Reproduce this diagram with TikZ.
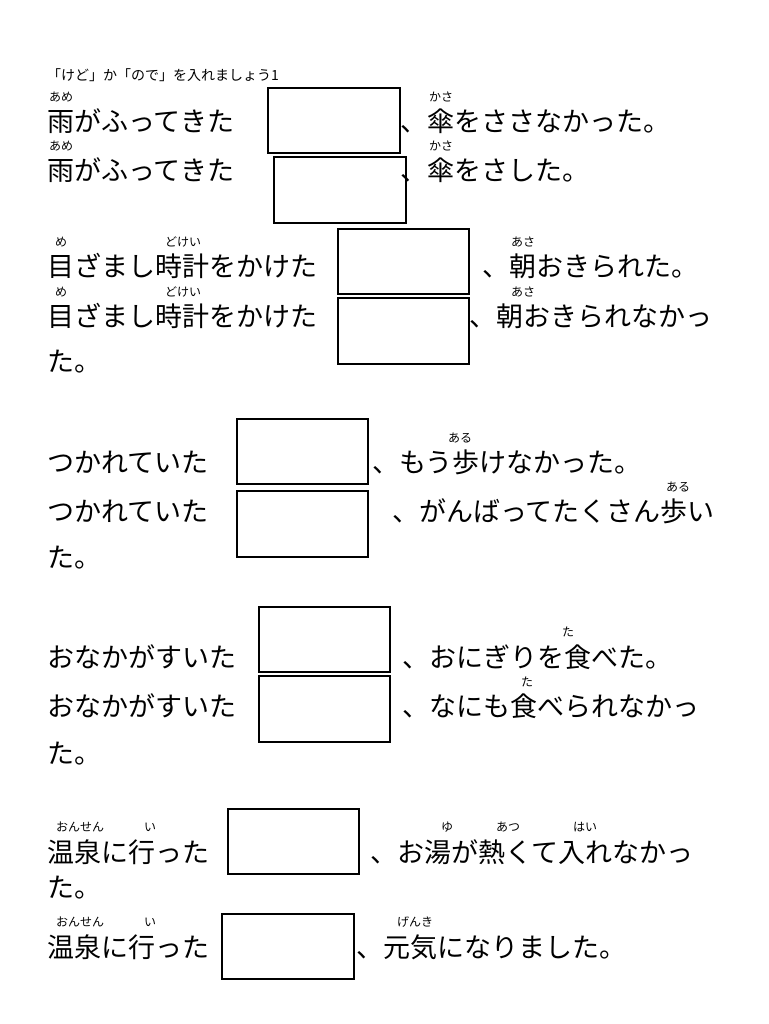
\documentclass[tikz,border=0pt]{standalone}
\usepackage{fontspec}
\newfontfamily\jp{Noto Sans CJK JP}
\begin{document}
\begin{tikzpicture}[x=1pt,y=-1pt,
  txt/.style={anchor=west, inner sep=0pt, font=\jp\fontsize{27}{27}\selectfont},
  ruby/.style={inner sep=0pt, font=\jp\fontsize{12}{12}\selectfont},
  ans/.style={draw, line width=1.2pt}]
	
	\useasboundingbox (0,0) rectangle (768,1024);
	\node[anchor=west, inner sep=0pt, font=\jp\fontsize{14}{14}\selectfont] (title) at (47,75) {「けど」か「ので」を入れましょう1};
	
	% rain
	\node[txt] (l1) at (47,121) {雨がふってきた};
	\draw[ans] (268,88) rectangle (400,153);
	\node[txt] (r1) at (400,121) {、傘をささなかった。};
	\node[ruby] at (61,97) {あめ};
	\node[ruby] at (441,97) {かさ};
	\node[txt] (l2) at (47,170) {雨がふってきた};
	\draw[ans] (274,157) rectangle (406,223);
	\node[txt] (r2) at (400,170) {、傘をさした。};
	\node[ruby] at (61,146) {あめ};
	\node[ruby] at (441,146) {かさ};
	
	% alarm
	\node[txt] (l3) at (47,266) {目ざまし時計をかけた};
	\draw[ans] (338,229) rectangle (469,294);
	\node[txt] (r3) at (482,266) {、朝おきられた。};
	\node[ruby] at (61,242) {め};
	\node[ruby] at (183,242) {どけい};
	\node[ruby] at (523,242) {あさ};
	\node[txt] (l4) at (47,316) {目ざまし時計をかけた};
	\draw[ans] (338,298) rectangle (469,364);
	\node[txt] (r4) at (469,316) {、朝おきられなかっ};
	\node[ruby] at (61,292) {め};
	\node[ruby] at (183,292) {どけい};
	\node[ruby] at (523,292) {あさ};
	\node[txt] (c4) at (47,362) {た。};
	
	% tired
	\node[txt] (l5) at (47,462) {つかれていた};
	\draw[ans] (237,419) rectangle (368,484);
	\node[txt] (r5) at (372,462) {、もう歩けなかった。};
	\node[ruby] at (460,438) {ある};
	\node[txt] (l6) at (47,511) {つかれていた};
	\draw[ans] (237,491) rectangle (368,557);
	\node[txt] (r6) at (392,511) {、がんばってたくさん歩い};
	\node[ruby] at (678,487) {ある};
	\node[txt] (c6) at (47,558) {た。};
	
	% hungry
	\node[txt] (l7) at (47,657) {おなかがすいた};
	\draw[ans] (259,607) rectangle (390,672);
	\node[txt] (r7) at (402,657) {、おにぎりを食べた。};
	\node[ruby] at (568,632) {た};
	\node[txt] (l8) at (47,706) {おなかがすいた};
	\draw[ans] (259,676) rectangle (390,742);
	\node[txt] (r8) at (402,706) {、なにも食べられなかっ};
	\node[ruby] at (527,682) {た};
	\node[txt] (c8) at (47,754) {た。};
	
	% hot spring
	\node[txt] (l9) at (47,852) {温泉に行った};
	\draw[ans] (228,809) rectangle (359,874);
	\node[txt] (r9) at (370,852) {、お湯が熱くて入れなかっ};
	\node[ruby] at (80,827) {おんせん};
	\node[ruby] at (150,827) {い};
	\node[ruby] at (447,827) {ゆ};
	\node[ruby] at (508,827) {あつ};
	\node[ruby] at (585,827) {はい};
	\node[txt] (c9) at (47,888) {た。};
	\node[txt] (l10) at (47,947) {温泉に行った};
	\draw[ans] (222,914) rectangle (354,979);
	\node[txt] (r10) at (356,947) {、元気になりました。};
	\node[ruby] at (80,922) {おんせん};
	\node[ruby] at (150,922) {い};
	\node[ruby] at (415,922) {げんき};

\end{tikzpicture}
\end{document}
